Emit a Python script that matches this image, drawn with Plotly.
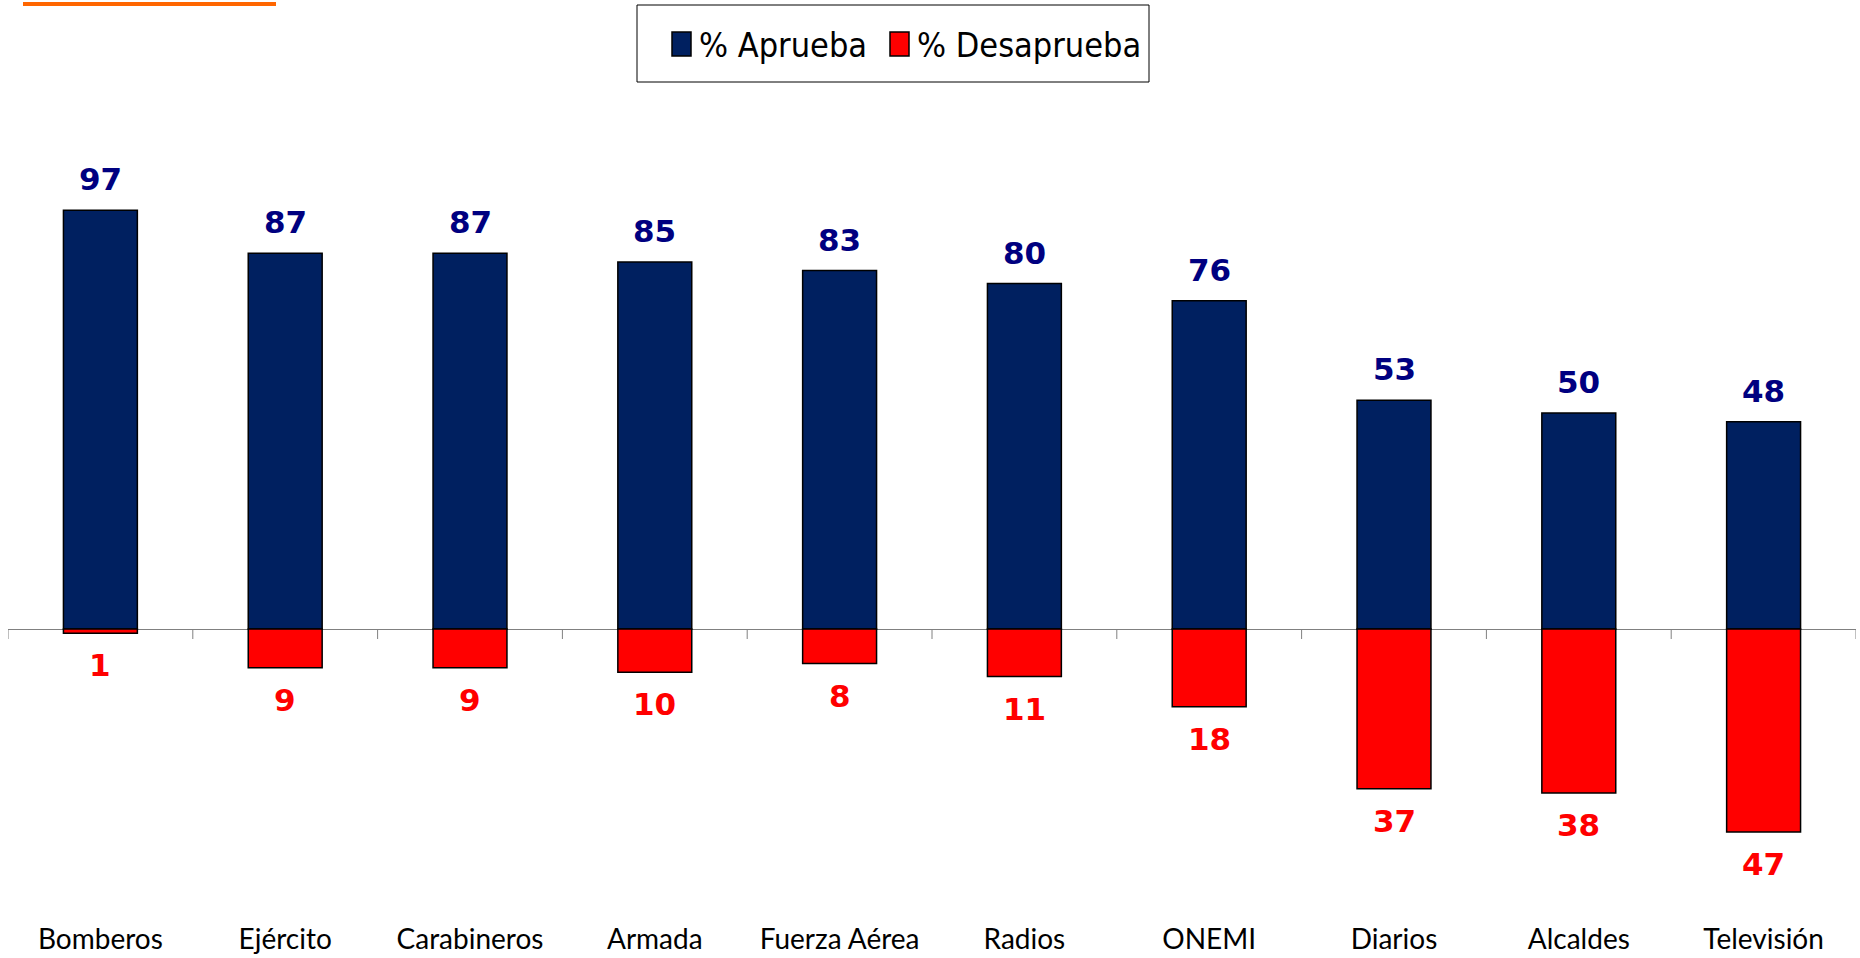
import plotly.graph_objects as go

categories = ["Bomberos", "Ejército", "Carabineros", "Armada", "Fuerza Aérea",
              "Radios", "ONEMI", "Diarios", "Alcaldes", "Televisión"]
aprueba = [97, 87, 87, 85, 83, 80, 76, 53, 50, 48]
desaprueba = [1, 9, 9, 10, 8, 11, 18, 37, 38, 47]
series_names = ["% Aprueba", "% Desaprueba"]
series_colors = ["#002060", "#FF0000"]

W, H = 1860, 958
ML, MR, MT, MB = 8, 4, 154, 38
YMAX = 110
plot_h = H - MT - MB
UNIT_PX = 475.0 / YMAX
YMIN = -(plot_h / UNIT_PX - YMAX)


def py(p):
    return (H - MB - p) / plot_h


def px(p):
    return (p - ML) / (W - ML - MR)


fig = go.Figure()
fig.add_trace(go.Bar(
    x=categories, y=aprueba, name=series_names[0],
    marker=dict(color=series_colors[0], line=dict(color="#000000", width=1.5)),
    width=0.4, showlegend=False,
))
fig.add_trace(go.Bar(
    x=categories, y=[-v for v in desaprueba], name=series_names[1],
    marker=dict(color=series_colors[1], line=dict(color="#000000", width=1.5)),
    width=0.4, showlegend=False,
))

lab_font = "Tahoma, DejaVu Sans, sans-serif"
annotations = []
for c, v in zip(categories, aprueba):
    annotations.append(dict(x=c, y=v, xref="x", yref="y", text=str(v),
                            showarrow=False, yanchor="middle", yshift=31,
                            font=dict(family=lab_font, size=31, color="#000080", weight="bold")))
for c, v in zip(categories, desaprueba):
    annotations.append(dict(x=c, y=-v, xref="x", yref="y", text=str(v),
                            showarrow=False, yanchor="middle", yshift=-32,
                            font=dict(family=lab_font, size=31, color="#FF0000", weight="bold")))

shapes = []
# category boundary ticks on the zero axis
for i in range(len(categories) + 1):
    shapes.append(dict(type="line", xref="x", yref="y", x0=i - 0.5, x1=i - 0.5,
                       ysizemode="pixel", yanchor=0, y0=0, y1=-10,
                       line=dict(color="#808080", width=1)))
# orange accent line
shapes.append(dict(type="rect", xref="paper", yref="paper",
                   x0=px(23), x1=px(276), y0=py(6), y1=py(2),
                   fillcolor="#FF6600", line=dict(width=0)))

# legend box drawn manually
shapes.append(dict(type="rect", xref="paper", yref="paper",
                   x0=px(637), x1=px(1149), y0=py(82), y1=py(5),
                   fillcolor="white", line=dict(color="#000000", width=1)))
leg_sq_x = [672, 890]
leg_txt_x = [697, 915]
for name, col, sx, tx in zip(series_names, series_colors, leg_sq_x, leg_txt_x):
    shapes.append(dict(type="rect", xref="paper", yref="paper",
                       x0=px(sx), x1=px(sx + 19), y0=py(56), y1=py(32),
                       fillcolor=col, line=dict(color="#000000", width=1.5)))
    annotations.append(dict(x=px(tx), y=py(45), xref="paper", yref="paper",
                            text=name, showarrow=False, xanchor="left", yanchor="middle",
                            font=dict(family="Liberation Sans Narrow, DejaVu Sans Condensed, sans-serif",
                                      size=34, color="#000000")))

fig.update_layout(
    width=W, height=H,
    margin=dict(l=ML, r=MR, t=MT, b=MB, autoexpand=False),
    paper_bgcolor="white", plot_bgcolor="white",
    barmode="relative", bargap=0.6,
    showlegend=False,
    xaxis=dict(showline=False, showgrid=False, ticks="", zeroline=False, automargin=False,
               tickfont=dict(family="Lato", size=28, color="#000000"),
               range=[-0.5, len(categories) - 0.5], fixedrange=True),
    yaxis=dict(range=[YMIN, YMAX], showgrid=False, showticklabels=False, ticks="",
               automargin=False,
               zeroline=True, zerolinecolor="#808080", zerolinewidth=1, showline=False),
    annotations=annotations,
    shapes=shapes,
)

fig.write_html("out.html", config={"displayModeBar": False},
               post_script="document.body.style.margin='0';document.body.style.overflow='hidden';")
